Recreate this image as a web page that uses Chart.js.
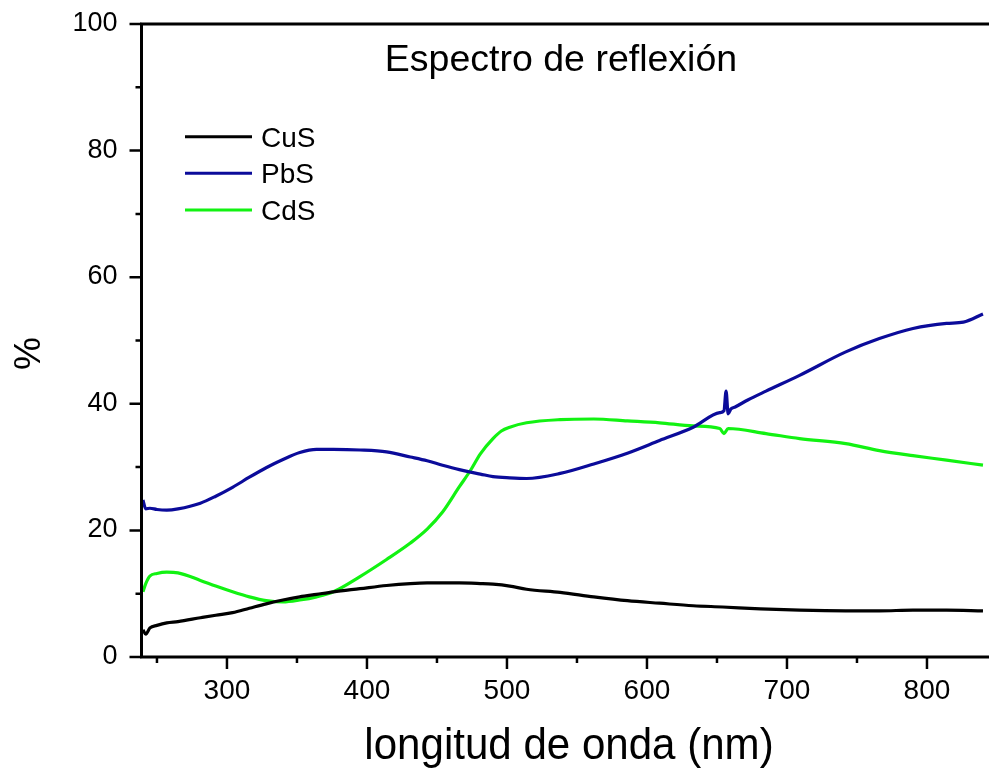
<!DOCTYPE html>
<html>
<head>
<meta charset="utf-8">
<title>Espectro de reflexión</title>
<script src="https://cdn.jsdelivr.net/npm/chart.js@4.4.0/dist/chart.umd.min.js"></script>
<style>
  html, body { margin: 0; padding: 0; background: #ffffff; }
  #wrap { width: 989px; height: 770px; }
</style>
</head>
<body>
<div id="wrap"><canvas id="c" width="989" height="770"></canvas></div>
<script>
// Reflectance spectra (%) against wavelength (nm), one pair of arrays per film
const cusWavelength = [240, 242, 245, 250, 257, 265, 281, 292, 304, 316, 328, 340, 352, 364, 376, 395,
                       414, 431, 443, 454, 466, 481, 490, 502, 514, 538, 562, 586, 609, 633, 654, 681,
                       709, 742, 766, 790, 814, 840];
const cusValues = [4.3, 3.6, 4.6, 5.0, 5.4, 5.6, 6.2, 6.6, 7.0, 7.7, 8.4, 9.0, 9.5, 9.9, 10.3, 10.8,
                   11.3, 11.6, 11.7, 11.7, 11.7, 11.6, 11.5, 11.2, 10.7, 10.2, 9.5, 8.9, 8.5, 8.1, 7.9, 7.6,
                   7.4, 7.3, 7.3, 7.4, 7.4, 7.3];

const pbsWavelength = [240, 242, 245, 250, 257, 265, 281, 292, 304, 316, 328, 340, 352, 364, 376, 395,
                       414, 431, 443, 454, 466, 474, 481, 490, 502, 514, 538, 562, 586, 609, 633, 652,
                       655, 656.5, 658, 660, 663, 672, 685, 709, 742, 766, 790, 814, 826, 840];
const pbsValues = [24.8, 23.4, 23.5, 23.3, 23.2, 23.4, 24.3, 25.4, 26.8, 28.4, 29.9, 31.2, 32.3, 32.8, 32.8, 32.7,
                   32.4, 31.6, 31.0, 30.3, 29.6, 29.2, 28.9, 28.5, 28.3, 28.2, 29.0, 30.5, 32.2, 34.2, 36.3, 38.6,
                   38.9, 42.0, 38.4, 39.2, 39.5, 40.6, 42.0, 44.5, 48.2, 50.3, 51.9, 52.7, 52.9, 54.2];

const cdsWavelength = [240, 242, 245, 250, 257, 265, 281, 292, 304, 316, 328, 340, 352, 364, 376, 395,
                       414, 431, 443, 454, 466, 474, 481, 490, 496, 502, 514, 538, 562, 586, 609, 633, 652,
                       655, 658, 685, 709, 742, 766, 790, 814, 840];
const cdsValues = [10.3, 11.6, 12.8, 13.2, 13.4, 13.3, 12.1, 11.2, 10.3, 9.5, 8.9, 8.7, 9.0, 9.5, 10.3, 12.7,
                   15.4, 18.0, 20.2, 22.9, 26.9, 29.5, 32.1, 34.5, 35.7, 36.3, 37.0, 37.5, 37.6, 37.3, 37.0, 36.5, 36.1,
                   35.3, 36.1, 35.3, 34.5, 33.7, 32.6, 31.8, 31.1, 30.3];

const seriesNames = ['CuS', 'PbS', 'CdS'];
const seriesColors = ['#000000', '#0b0b9a', '#12f212'];

// Axis ticks
const xMajorTicks = [300, 400, 500, 600, 700, 800];
const xMinorTicks = [250, 350, 450, 550, 650, 750];
const yMajorTicks = [0, 20, 40, 60, 80, 100];
const yMinorTicks = [10, 30, 50, 70, 90];

const chartTitle = 'Espectro de reflexión';
const xTitle = 'longitud de onda (nm)';
const yTitle = '%';

const FONT = '"Liberation Sans", Arial, Helvetica, sans-serif';

function toPoints(xs, ys) {
  return xs.map((w, i) => ({ x: w, y: ys[i] }));
}

// Frame, tick marks, tick labels, titles and in-plot legend
const framePlugin = {
  id: 'frame',
  afterDraw(chart) {
    const { ctx, chartArea: a, scales } = chart;
    const xs = scales.x, ys = scales.y;
    const left = a.left + 0.5;
    ctx.save();
    ctx.strokeStyle = '#000';
    ctx.fillStyle = '#000';
    ctx.lineCap = 'butt';

    // axis lines: left, bottom, top
    ctx.lineWidth = 3;
    ctx.beginPath();
    ctx.moveTo(left, a.top - 1.5); ctx.lineTo(left, a.bottom + 1.5);
    ctx.moveTo(left, a.bottom); ctx.lineTo(a.right, a.bottom);
    ctx.moveTo(left, a.top); ctx.lineTo(a.right, a.top);
    ctx.stroke();

    // outward ticks
    const major = 12, minor = 6;
    ctx.lineWidth = 2.5;
    ctx.beginPath();
    xMajorTicks.forEach(v => { const px = xs.getPixelForValue(v); ctx.moveTo(px, a.bottom); ctx.lineTo(px, a.bottom + major); });
    xMinorTicks.forEach(v => { const px = xs.getPixelForValue(v); ctx.moveTo(px, a.bottom); ctx.lineTo(px, a.bottom + minor); });
    yMajorTicks.forEach(v => { const py = ys.getPixelForValue(v); ctx.moveTo(left, py); ctx.lineTo(left - major, py); });
    yMinorTicks.forEach(v => { const py = ys.getPixelForValue(v); ctx.moveTo(left, py); ctx.lineTo(left - minor, py); });
    ctx.stroke();

    // tick labels
    ctx.textBaseline = 'alphabetic';
    ctx.font = '28px ' + FONT;
    ctx.textAlign = 'center';
    xMajorTicks.forEach(v => ctx.fillText(String(v), xs.getPixelForValue(v), 699));
    ctx.font = '27px ' + FONT;
    ctx.textAlign = 'right';
    yMajorTicks.forEach(v => ctx.fillText(String(v), 117.5, ys.getPixelForValue(v) + 7));

    // x-axis title (slightly condensed face)
    ctx.save();
    ctx.translate(569, 758.5);
    ctx.scale(0.935, 1);
    ctx.font = '45px ' + FONT;
    ctx.textAlign = 'center';
    ctx.fillText(xTitle, 0, 0);
    ctx.restore();

    // rotated y-axis title
    ctx.save();
    ctx.translate(29.5, 353.5);
    ctx.rotate(-Math.PI / 2);
    ctx.font = '37px ' + FONT;
    ctx.textAlign = 'center';
    ctx.textBaseline = 'middle';
    ctx.fillText(yTitle, 0, 0);
    ctx.restore();

    // title inside the plot
    ctx.font = '37.5px ' + FONT;
    ctx.textAlign = 'center';
    ctx.textBaseline = 'alphabetic';
    ctx.fillText(chartTitle, 561, 71);

    // legend
    ctx.font = '28px ' + FONT;
    ctx.textAlign = 'left';
    const rows = [136.7, 173.3, 210];
    chart.data.datasets.forEach((ds, i) => {
      const y = rows[i];
      ctx.strokeStyle = ds.borderColor;
      ctx.lineWidth = 3;
      ctx.beginPath();
      ctx.moveTo(185, y); ctx.lineTo(252, y);
      ctx.stroke();
      ctx.fillText(ds.label, 261, y + 10);
    });

    ctx.restore();
  }
};

new Chart(document.getElementById('c'), {
  type: 'line',
  data: {
    datasets: [
      { label: seriesNames[0], data: toPoints(cusWavelength, cusValues), borderColor: seriesColors[0] },
      { label: seriesNames[1], data: toPoints(pbsWavelength, pbsValues), borderColor: seriesColors[1] },
      { label: seriesNames[2], data: toPoints(cdsWavelength, cdsValues), borderColor: seriesColors[2] }
    ]
  },
  options: {
    responsive: false,
    animation: false,
    devicePixelRatio: 1,
    layout: { padding: { top: 24, right: 0, bottom: 113, left: 141 } },
    elements: {
      point: { radius: 0 },
      line: { borderWidth: 3.2, cubicInterpolationMode: 'monotone', fill: false }
    },
    plugins: {
      legend: { display: false },
      tooltip: { enabled: false }
    },
    scales: {
      x: { type: 'linear', display: false, min: 238.6, max: 844.3 },
      y: { type: 'linear', display: false, min: 0, max: 100 }
    }
  },
  plugins: [framePlugin]
});
</script>
</body>
</html>
